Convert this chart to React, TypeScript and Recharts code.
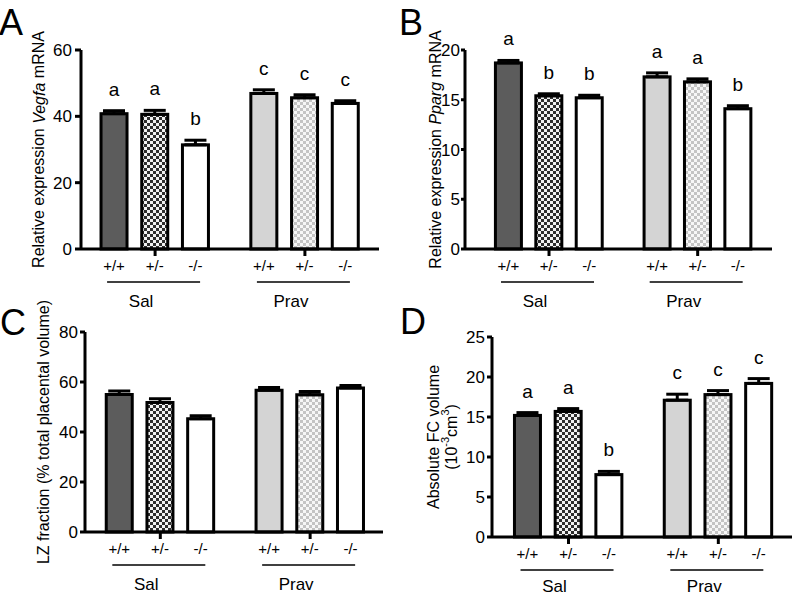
import React from 'react';
import { BarChart, Bar, XAxis, YAxis, ErrorBar } from 'recharts';

const genotypes = ['+/+', '+/-', '-/-', '+/+', '+/-', '-/-'];
const groups = ['Sal', 'Prav'];

// A: Vegfa
const vegfaMean = [40.8, 40.6, 31.4, 46.9, 45.6, 43.9];
const vegfaSem = [0.9, 1.2, 1.4, 1.1, 0.9, 0.8];
const vegfaLetters = ['a', 'a', 'b', 'c', 'c', 'c'];

// B: Pparg
const ppargMean = [18.7, 15.4, 15.2, 17.3, 16.8, 14.1];
const ppargSem = [0.25, 0.2, 0.25, 0.4, 0.3, 0.3];
const ppargLetters = ['a', 'b', 'b', 'a', 'a', 'b'];

// C: LZ fraction
const lzMean = [55.0, 51.8, 45.3, 56.7, 54.9, 57.6];
const lzSem = [1.4, 1.5, 1.2, 1.1, 1.3, 1.0];

// D: FC volume
const fcMean = [15.2, 15.7, 7.8, 17.1, 17.8, 19.2];
const fcSem = [0.35, 0.35, 0.4, 0.75, 0.5, 0.6];
const fcLetters = ['a', 'a', 'b', 'c', 'c', 'c'];

const FONT = '"Liberation Sans", Arial, Helvetica, sans-serif';
const GROUP_STEP = 3.68; // spacing between the two treatment groups, in bar slots
const slotPos = (i: number) => Math.floor(i / 3) * GROUP_STEP + (i % 3);
const groupTicks = [slotPos(1), slotPos(4)];

const buildRows = (mean: number[], sem: number[], letters?: string[]) =>
  mean.map((v, i) => ({
    x: slotPos(i),
    v,
    sem: sem[i],
    err: [0, sem[i]],
    geno: genotypes[i],
    letter: letters ? letters[i] : '',
  }));

const fillsFor = (id: string) => [
  '#5c5c5c',
  `url(#chkDark-${id})`,
  '#ffffff',
  '#d4d4d4',
  `url(#chkLight-${id})`,
  '#ffffff',
];

const makeShape = (id: string) => (props: any) => {
  const { x, y, width, height, index, payload } = props;
  const fills = fillsFor(id);
  const errPx = payload.v ? (payload.sem / payload.v) * height : 0;
  return (
    <g>
      <rect x={x} y={y} width={width} height={height} fill={fills[index]} stroke="#000" strokeWidth={3} />
      {payload.letter && (
        <text x={x + width / 2} y={y - errPx - 15} textAnchor="middle" fontSize={19} fill="#000">
          {payload.letter}
        </text>
      )}
      <text x={x + width / 2} y={y + height + 22} textAnchor="middle" fontSize={15} fill="#000">
        {payload.geno}
      </text>
    </g>
  );
};

const makeGroupTick = (nameDy: number) => (props: any) => {
  const { x, y, index } = props;
  return (
    <g>
      <line x1={x - 48} x2={x + 45} y1={y + 26} y2={y + 26} stroke="#000" strokeWidth={1.5} />
      <text x={x - 14} y={y + nameDy} textAnchor="middle" fontSize={17} fill="#000">
        {groups[index]}
      </text>
    </g>
  );
};

type PanelProps = {
  id: string;
  left: number;
  top: number;
  width: number;
  height: number;
  margin: { top: number; right: number; bottom: number; left: number };
  xAxisHeight: number;
  xDomain: [number, number];
  yMax: number;
  yTicks: number[];
  yTickSize: number;
  yTickMargin: number;
  nameDy: number;
  rows: any[];
  title: (cx: number, cy: number) => React.ReactNode;
  titleX: number;
};

const Panel = (p: PanelProps) => {
  const plotBottom = p.height - p.margin.bottom - p.xAxisHeight;
  const cy = (p.margin.top + plotBottom) / 2;
  const GroupTick = makeGroupTick(p.nameDy);
  return (
    <div style={{ position: 'absolute', left: p.left, top: p.top }}>
      <BarChart width={p.width} height={p.height} data={p.rows} margin={p.margin} style={{ overflow: 'visible' }}>
        <defs>
          <pattern id={`chkDark-${p.id}`} width={6} height={6} patternUnits="userSpaceOnUse">
            <rect width={6} height={6} fill="#f2f2f2" />
            <rect width={3} height={3} fill="#2e2e2e" />
            <rect x={3} y={3} width={3} height={3} fill="#2e2e2e" />
          </pattern>
          <pattern id={`chkLight-${p.id}`} width={6} height={6} patternUnits="userSpaceOnUse">
            <rect width={6} height={6} fill="#f7f7f7" />
            <rect width={3} height={3} fill="#c4c4c4" />
            <rect x={3} y={3} width={3} height={3} fill="#c4c4c4" />
          </pattern>
        </defs>
        <XAxis
          type="number"
          dataKey="x"
          domain={p.xDomain}
          ticks={groupTicks}
          interval={0}
          height={p.xAxisHeight}
          tickSize={7}
          tickMargin={0}
          allowDataOverflow
          axisLine={{ stroke: '#000', strokeWidth: 3 }}
          tickLine={{ stroke: '#000', strokeWidth: 3 }}
          tick={<GroupTick />}
        />
        <YAxis
          domain={[0, p.yMax]}
          ticks={p.yTicks}
          width={60}
          tickSize={p.yTickSize}
          tickMargin={p.yTickMargin}
          interval={0}
          axisLine={{ stroke: '#000', strokeWidth: 3 }}
          tickLine={{ stroke: '#000', strokeWidth: 3 }}
          tick={{ fill: '#000', fontSize: 17 }}
          label={() => p.title(p.titleX, cy)}
        />
        <Bar dataKey="v" barSize={26} isAnimationActive={false} shape={makeShape(p.id)}>
          <ErrorBar dataKey="err" width={11} strokeWidth={3} stroke="#000" direction="y" />
        </Bar>
      </BarChart>
    </div>
  );
};

const rotated = (x: number, y: number, children: React.ReactNode) => (
  <text
    x={x}
    y={y}
    transform={`rotate(-90 ${x} ${y})`}
    textAnchor="middle"
    dominantBaseline="central"
    fontSize={16}
    fill="#000"
  >
    {children}
  </text>
);

export default function App() {
  return (
    <div
      style={{
        position: 'absolute',
        left: 0,
        top: 0,
        width: 793,
        height: 595,
        background: '#fff',
        fontFamily: FONT,
        overflow: 'hidden',
      }}
    >
      <Panel
        id="a"
        left={0}
        top={0}
        width={396}
        height={312}
        margin={{ top: 50, right: 17, bottom: 0, left: 21 }}
        xAxisHeight={63}
        xDomain={[-0.82, 6.5]}
        yMax={60}
        yTicks={[0, 20, 40, 60]}
        yTickSize={6}
        yTickMargin={3}
        nameDy={51}
        rows={buildRows(vegfaMean, vegfaSem, vegfaLetters)}
        titleX={38.5}
        title={(cx, cy) =>
          rotated(cx, cy, (
            <>
              Relative expression <tspan fontStyle="italic">Vegfa</tspan> mRNA
            </>
          ))
        }
      />
      <Panel
        id="b"
        left={400}
        top={0}
        width={393}
        height={312}
        margin={{ top: 50, right: 21, bottom: 0, left: 5 }}
        xAxisHeight={63}
        xDomain={[-1.08, 6.52]}
        yMax={20}
        yTicks={[0, 5, 10, 15, 20]}
        yTickSize={4}
        yTickMargin={1}
        nameDy={51}
        rows={buildRows(ppargMean, ppargSem, ppargLetters)}
        titleX={35}
        title={(cx, cy) =>
          rotated(cx, cy, (
            <>
              Relative expression <tspan fontStyle="italic">Pparg</tspan> mRNA
            </>
          ))
        }
      />
      <Panel
        id="c"
        left={0}
        top={300}
        width={396}
        height={295}
        margin={{ top: 32, right: 13, bottom: 0, left: 25 }}
        xAxisHeight={63}
        xDomain={[-0.85, 6.47]}
        yMax={80}
        yTicks={[0, 20, 40, 60, 80]}
        yTickSize={5}
        yTickMargin={2}
        nameDy={51}
        rows={buildRows(lzMean, lzSem)}
        titleX={43}
        title={(cx, cy) => rotated(cx, cy, 'LZ fraction (% total placental volume)')}
      />
      <Panel
        id="d"
        left={400}
        top={300}
        width={393}
        height={295}
        margin={{ top: 37, right: 1, bottom: 0, left: 32 }}
        xAxisHeight={58}
        xDomain={[-0.88, 6.49]}
        yMax={25}
        yTicks={[0, 5, 10, 15, 20, 25]}
        yTickSize={5}
        yTickMargin={2}
        nameDy={48}
        rows={buildRows(fcMean, fcSem, fcLetters)}
        titleX={33}
        title={(cx, cy) => (
          <g>
            {rotated(cx, cy, 'Absolute FC volume')}
            {rotated(cx + 18, cy, (
              <>
                (10<tspan dy={-6} fontSize={11}>-3</tspan>
                <tspan dy={6}>cm</tspan>
                <tspan dy={-6} fontSize={11}>3</tspan>
                <tspan dy={6}>)</tspan>
              </>
            ))}
          </g>
        )}
      />
      <svg width={793} height={595} style={{ position: 'absolute', left: 0, top: 0, pointerEvents: 'none' }}>
        <text x={-1} y={35} fontSize={36} fill="#000">A</text>
        <text x={399} y={35} fontSize={36} fill="#000">B</text>
        <text x={0} y={335} fontSize={36} fill="#000">C</text>
        <text x={400} y={334} fontSize={36} fill="#000">D</text>
      </svg>
    </div>
  );
}
